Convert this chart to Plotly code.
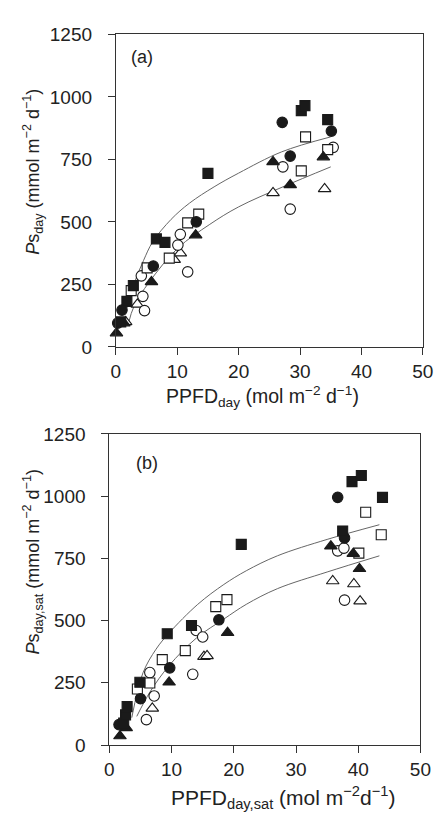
import plotly.graph_objects as go

W, H = 443, 821

# ---------------- Panel (a): PPFDday vs Psday ----------------
a_filled_square_x = [0.8, 1.8, 2.85, 6.6, 8.0, 15.0, 30.2, 30.8, 34.5]
a_filled_square_y = [100, 182, 245, 432, 418, 694, 945, 965, 909]
a_filled_circle_x = [0.3, 1.0, 6.1, 13.1, 27.1, 28.4, 35.1]
a_filled_circle_y = [95, 147, 323, 500, 898, 763, 863]
a_filled_triangle_x = [0.1, 1.3, 5.8, 13.0, 25.6, 28.4, 33.8]
a_filled_triangle_y = [55, 95, 260, 447, 740, 648, 759]
a_open_circle_x = [4.15, 4.4, 4.67, 10.1, 10.5, 11.7, 28.4, 27.2, 35.4]
a_open_circle_y = [284, 202, 145, 407, 450, 300, 551, 720, 798]
a_open_square_x = [2.5, 5.1, 8.7, 11.7, 13.5, 30.9, 30.2, 34.5]
a_open_square_y = [225, 316, 355, 496, 531, 840, 704, 789]
a_open_triangle_x = [1.6, 3.5, 9.5, 10.5, 25.6, 34.0]
a_open_triangle_y = [100, 170, 349, 375, 616, 632]

a_upper_fit_x = [1.8, 3.0, 4.5, 6.0, 9.0, 12.0, 16.0, 20.0, 27.0, 35.0]
a_upper_fit_y = [154, 255, 345, 420, 510, 575, 640, 695, 780, 840]
a_lower_fit_x = [2.0, 3.0, 5.4, 10.1, 15.3, 20.0, 27.2, 35.0]
a_lower_fit_y = [90, 165, 258, 395, 490, 560, 640, 720]

# ---------------- Panel (b): PPFDday,sat vs Psday,sat ----------------
b_filled_square_x = [2.3, 2.6, 2.85, 4.9, 9.3, 13.2, 21.2, 37.5, 39.0, 40.5, 43.9]
b_filled_square_y = [88, 121, 154, 252, 447, 480, 806, 860, 1058, 1083, 995]
b_filled_circle_x = [1.55, 5.0, 9.7, 17.6, 36.7, 37.8]
b_filled_circle_y = [82, 186, 310, 503, 995, 832]
b_filled_triangle_x = [1.7, 2.7, 9.6, 19.0, 35.6, 39.2, 40.2]
b_filled_triangle_y = [36, 69, 252, 451, 799, 769, 708]
b_open_circle_x = [5.95, 6.5, 7.2, 13.4, 13.95, 15.0, 36.7, 37.7, 37.8]
b_open_circle_y = [102, 291, 197, 284, 460, 434, 780, 791, 582]
b_open_square_x = [4.5, 6.5, 8.5, 12.2, 17.1, 18.9, 40.1, 41.2, 43.7]
b_open_square_y = [225, 249, 343, 379, 556, 584, 771, 935, 845]
b_open_triangle_x = [6.9, 15.2, 15.7, 35.9, 39.3, 40.3]
b_open_triangle_y = [147, 355, 358, 659, 647, 578]

b_upper_fit_x = [3.6, 5.4, 7.5, 9.6, 14.2, 18.4, 22.0, 27.0, 35.0, 43.4]
b_upper_fit_y = [110, 290, 385, 450, 565, 645, 700, 760, 826, 885]
b_lower_fit_x = [4.4, 6.5, 9.6, 14.0, 18.4, 22.0, 27.0, 35.0, 43.4]
b_lower_fit_y = [115, 212, 319, 430, 506, 565, 628, 695, 760]

x_ticks = [0, 10, 20, 30, 40, 50]
y_ticks = [0, 250, 500, 750, 1000, 1250]

INK = "#1a1a1a"
FONT = "Liberation Sans, Arial, Helvetica, sans-serif"
SIZES = {"square": 10, "circle": 10.5, "triangle-up": 11}

fig = go.Figure()


def add_panel(xa, ya, data, fits):
    for xs, ys in fits:
        fig.add_trace(go.Scatter(x=xs, y=ys, mode="lines", xaxis=xa, yaxis=ya,
                                 line=dict(color="#666", width=1, shape="spline", smoothing=1.0),
                                 hoverinfo="skip", showlegend=False))
    for xs, ys, sym, fill in data:
        fig.add_trace(go.Scatter(x=xs, y=ys, mode="markers", xaxis=xa, yaxis=ya,
                                 cliponaxis=False, showlegend=False,
                                 marker=dict(symbol=sym, size=SIZES[sym], color=fill,
                                             line=dict(color=INK, width=1.1))))


add_panel("x", "y",
          [(a_open_triangle_x, a_open_triangle_y, "triangle-up", "white"),
           (a_open_circle_x, a_open_circle_y, "circle", "white"),
           (a_open_square_x, a_open_square_y, "square", "white"),
           (a_filled_triangle_x, a_filled_triangle_y, "triangle-up", INK),
           (a_filled_circle_x, a_filled_circle_y, "circle", INK),
           (a_filled_square_x, a_filled_square_y, "square", INK)],
          [(a_upper_fit_x, a_upper_fit_y), (a_lower_fit_x, a_lower_fit_y)])

add_panel("x2", "y2",
          [(b_open_triangle_x, b_open_triangle_y, "triangle-up", "white"),
           (b_open_circle_x, b_open_circle_y, "circle", "white"),
           (b_open_square_x, b_open_square_y, "square", "white"),
           (b_filled_triangle_x, b_filled_triangle_y, "triangle-up", INK),
           (b_filled_circle_x, b_filled_circle_y, "circle", INK),
           (b_filled_square_x, b_filled_square_y, "square", INK)],
          [(b_upper_fit_x, b_upper_fit_y), (b_lower_fit_x, b_lower_fit_y)])


def px_x(p):
    return p / W


def px_y(p):
    return 1 - p / H


axis_common = dict(showgrid=False, zeroline=False, showline=True, linecolor="#333",
                   linewidth=1, mirror=True, ticks="outside", ticklen=7, tickcolor="#333",
                   tickwidth=1, tickfont=dict(family=FONT, size=19, color="#222"))

fig.update_layout(
    width=W, height=H, margin=dict(l=0, r=0, t=0, b=0),
    paper_bgcolor="white", plot_bgcolor="white",
    xaxis=dict(domain=[px_x(115), px_x(433.5)], range=[0, 50], tickvals=x_ticks,
               anchor="y", **axis_common),
    yaxis=dict(domain=[px_y(345.7), px_y(25)], range=[0, 1250], tickvals=y_ticks,
               anchor="x", ticklabelstandoff=12, **axis_common),
    xaxis2=dict(domain=[px_x(108.3), px_x(431)], range=[0, 50], tickvals=x_ticks,
                anchor="y2", **axis_common),
    yaxis2=dict(domain=[px_y(754.3), px_y(435)], range=[0, 1250], tickvals=y_ticks,
                anchor="x2", ticklabelstandoff=12, **axis_common),
)

ann_font = dict(family=FONT, size=18, color="#222")
annotations = [
    dict(text="(a)", x=px_x(142), y=px_y(48)),
    dict(text="(b)", x=px_x(147), y=px_y(465)),
    dict(text="PPFD<sub>day</sub> (mol m<sup>−2</sup> d<sup>−1</sup>)", x=px_x(267), y=px_y(397),
         font=dict(family=FONT, size=19.5, color="#222")),
    dict(text="PPFD<sub>day,sat</sub> (mol m<sup>−2</sup>d<sup>−1</sup>)", x=px_x(288), y=px_y(808),
         font=dict(family=FONT, size=21, color="#222")),
    dict(text="<i>P</i>s<sub>day</sub> (mmol m<sup>−2</sup> d<sup>−1</sup>)", x=px_x(29), y=px_y(166),
         textangle=-90),
    dict(text="<i>P</i>s<sub>day,sat</sub> (mmol m<sup>−2</sup> d<sup>−1</sup>)", x=px_x(29), y=px_y(566),
         textangle=-90),
]
for a in annotations:
    a.setdefault("font", ann_font)
    fig.add_annotation(xref="paper", yref="paper", showarrow=False,
                       xanchor="center", yanchor="middle", **a)

fig.write_html("out.html", config={"displayModeBar": False},
               post_script="document.body.style.margin='0';document.body.style.overflow='hidden';")
